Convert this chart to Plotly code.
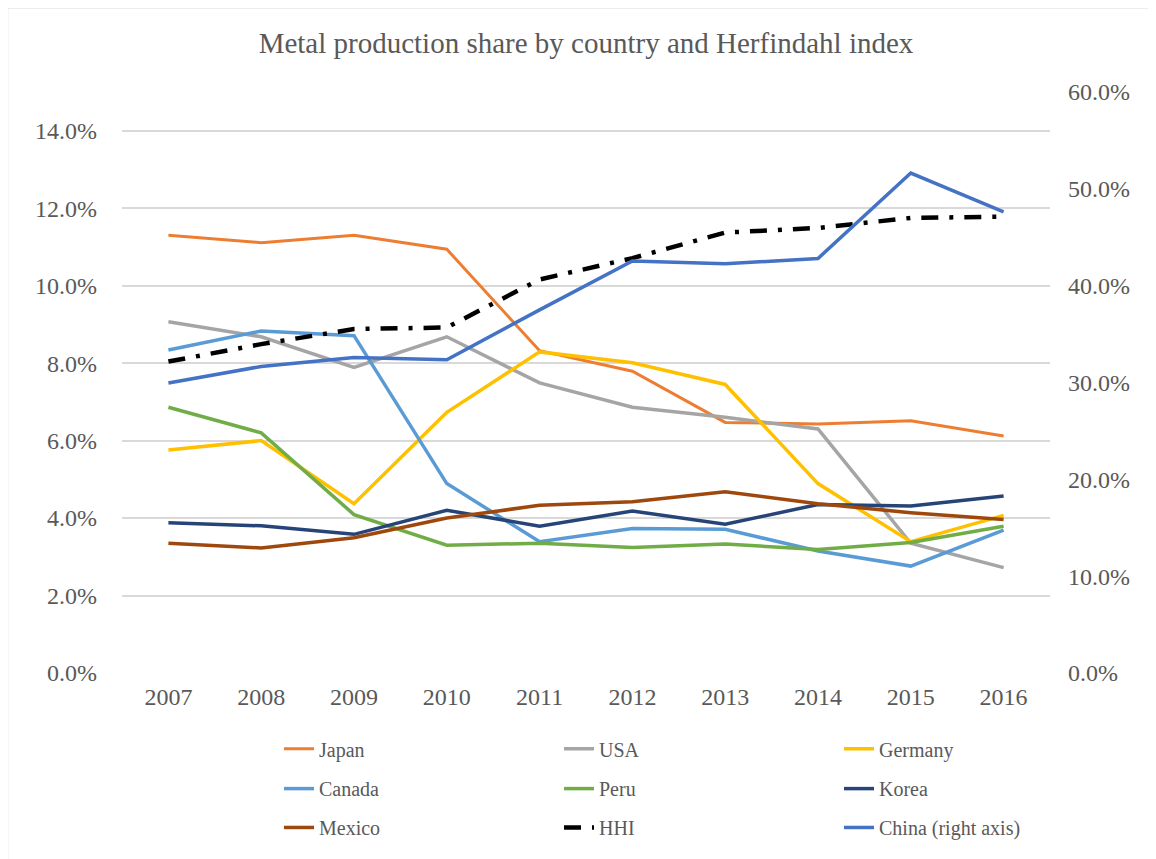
import plotly.graph_objects as go

years = ["2007", "2008", "2009", "2010", "2011", "2012", "2013", "2014", "2015", "2016"]
japan = [11.30, 11.11, 11.30, 10.94, 8.32, 7.79, 6.47, 6.43, 6.51, 6.12]
usa = [9.07, 8.68, 7.89, 8.68, 7.49, 6.86, 6.60, 6.30, 3.35, 2.72]
germany = [5.76, 6.00, 4.37, 6.73, 8.29, 8.01, 7.45, 4.89, 3.39, 4.07]
canada = [8.34, 8.83, 8.71, 4.89, 3.39, 3.73, 3.71, 3.15, 2.76, 3.69]
peru = [6.86, 6.20, 4.09, 3.30, 3.35, 3.24, 3.33, 3.19, 3.37, 3.79]
korea = [3.88, 3.80, 3.58, 4.20, 3.79, 4.18, 3.84, 4.35, 4.31, 4.57]
mexico = [3.35, 3.23, 3.49, 4.00, 4.33, 4.42, 4.68, 4.37, 4.14, 3.96]
hhi = [8.04, 8.49, 8.88, 8.92, 10.16, 10.71, 11.37, 11.49, 11.75, 11.78]
china = [29.95, 31.66, 32.59, 32.35, 37.50, 42.54, 42.26, 42.81, 51.63, 47.62]

FONT = "Liberation Serif, Times New Roman, serif"
TXT = "#595959"

series = [
    ("Japan", japan, "#ED7D31", "solid", 3, "y", "legend"),
    ("USA", usa, "#A5A5A5", "solid", 3.5, "y", "legend"),
    ("Germany", germany, "#FFC000", "solid", 3.5, "y", "legend"),
    ("Canada", canada, "#5B9BD5", "solid", 3.5, "y", "legend2"),
    ("Peru", peru, "#70AD47", "solid", 3.5, "y", "legend2"),
    ("Korea", korea, "#264478", "solid", 3.5, "y", "legend2"),
    ("Mexico", mexico, "#9E480E", "solid", 3.5, "y", "legend3"),
    ("HHI", hhi, "#000000", "17px,11px,4px,11px", 4.5, "y", "legend3"),
    ("China (right axis)", china, "#4472C4", "solid", 3.5, "y2", "legend3"),
]

fig = go.Figure()
for name, vals, color, dash, w, yax, leg in series:
    fig.add_trace(go.Scatter(
        x=years, y=vals, name=name, mode="lines", yaxis=yax, legend=leg,
        line=dict(color=color, width=w, dash=dash),
    ))

# page body has an 8px margin: reference pixel X -> figure pixel X - OFF
OFF = 8
W, H = 1156 - OFF, 859 - OFF
L, R, T, B = 122 - OFF, 1050 - OFF, 92 - OFF, 675 - OFF
pw, ph = R - L, B - T

def py(Yref):
    return (B - (Yref - OFF)) / ph

def px(Xref):
    return ((Xref - OFF) - L) / pw

legend_common = dict(
    orientation="h", xanchor="left", yanchor="middle",
    font=dict(family=FONT, size=20, color=TXT),
    entrywidth=235, entrywidthmode="pixels",
    bgcolor="rgba(0,0,0,0)", itemclick=False,
)

fig.update_layout(
    width=W, height=H,
    margin=dict(l=L, r=W - R, t=T, b=H - B, pad=0),
    paper_bgcolor="white", plot_bgcolor="white",
    font=dict(family=FONT, color=TXT),
    title=dict(text="Metal production share by country and Herfindahl index",
               font=dict(family=FONT, size=29, color=TXT),
               x=0.5, xref="paper", y=1 - (43 - OFF) / H, yref="container",
               xanchor="center", yanchor="middle"),
    xaxis=dict(type="category", range=[-0.5, 9.5], showgrid=False, showline=False,
               ticks="", tickfont=dict(family=FONT, size=24, color=TXT),
               ticklabelstandoff=7),
    yaxis=dict(range=[0, 15], dtick=2, tick0=0, tickformat=".1f", ticksuffix="%",
               showgrid=True, gridcolor="#D9D9D9", gridwidth=1.5,
               zeroline=False, showline=False, ticks="",
               tickfont=dict(family=FONT, size=24, color=TXT),
               ticklabelstandoff=24),
    yaxis2=dict(range=[0, 60], dtick=10, tick0=0, tickformat=".1f", ticksuffix="%",
                overlaying="y", side="right", showgrid=False, zeroline=False,
                showline=False, ticks="",
                tickfont=dict(family=FONT, size=24, color=TXT),
                ticklabelstandoff=17),
    legend=dict(x=px(279), y=py(751), **legend_common),
    legend2=dict(x=px(279), y=py(791), **legend_common),
    legend3=dict(x=px(279), y=py(830), **legend_common),
    shapes=[dict(type="rect", xref="paper", yref="paper",
                 x0=px(7), x1=px(1175), y0=py(880), y1=py(7),
                 line=dict(color="#D9D9D9", width=2.5), fillcolor="rgba(0,0,0,0)",
                 layer="below")],
)

fig.write_html("out.html")
